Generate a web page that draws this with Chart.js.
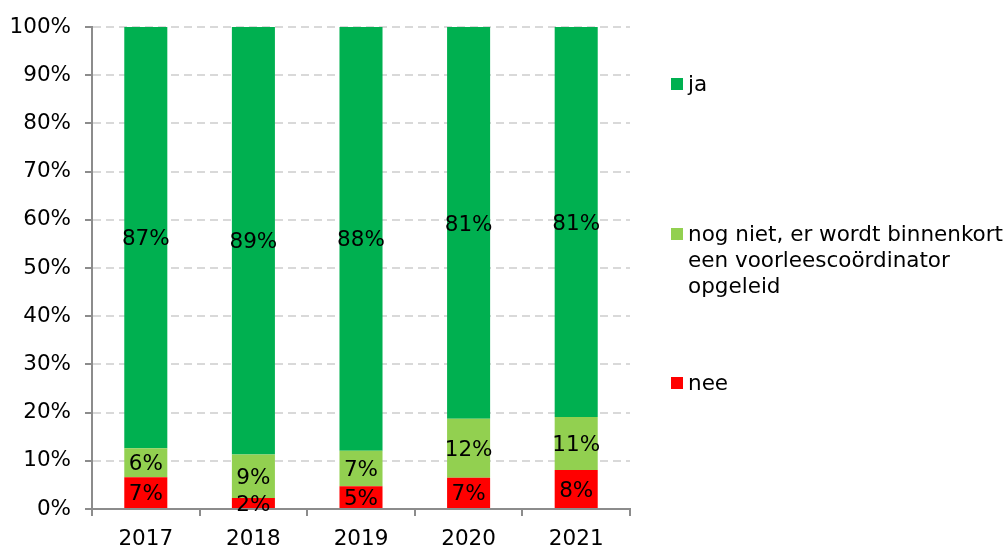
<!DOCTYPE html>
<html>
<head>
<meta charset="utf-8">
<script src="https://cdn.jsdelivr.net/npm/chart.js@4"></script>
<style>
  body { margin: 0; background: #fff; }
  #wrap { position: relative; width: 1008px; height: 548px; }
  .legend { position: absolute; left: 671px; font-family: 'DejaVu Sans', sans-serif; font-size: 21.5px; line-height: 26px; color: #000; white-space: nowrap; }
  .legend span.box { position: absolute; left: 0; top: 7px; width: 12px; height: 12px; }
  .legend div.txt { margin-left: 17px; }
</style>
</head>
<body>
<div id="wrap">
  <canvas id="chart" width="1008" height="548"></canvas>
  <div class="legend" style="top:71px"><span class="box" style="background:#00B050"></span><div class="txt">ja</div></div>
  <div class="legend" style="top:221px"><span class="box" style="background:#92D050"></span><div class="txt">nog niet, er wordt binnenkort<br>een voorleescoördinator<br>opgeleid</div></div>
  <div class="legend" style="top:370px"><span class="box" style="background:#FF0000"></span><div class="txt">nee</div></div>
</div>
<script>
document.addEventListener("DOMContentLoaded", function () {
    const years = ['2017', '2018', '2019', '2020', '2021'];
    const nee = [6.6, 2.3, 4.7, 6.5, 8.1];
    const nogNiet = [6.0, 9.0, 7.4, 12.2, 11.0];
    const ja = [87.4, 88.7, 87.9, 81.3, 80.9];
    const yTicks = [0, 10, 20, 30, 40, 50, 60, 70, 80, 90, 100];

    const font = "'DejaVu Sans', sans-serif";
    const fontSize = 21.5;

    // draws the percentage in the middle of each bar segment
    const barLabels = {
        id: 'barLabels',
        afterDatasetsDraw(chart) {
            const ctx = chart.ctx;
            ctx.save();
            ctx.font = fontSize + 'px ' + font;
            ctx.fillStyle = '#000';
            ctx.textAlign = 'center';
            ctx.textBaseline = 'middle';
            chart.data.datasets.forEach((ds, i) => {
                chart.getDatasetMeta(i).data.forEach((bar, j) => {
                    const mid = (bar.y + bar.base) / 2;
                    ctx.fillText(Math.round(ds.data[j]) + '%', bar.x, mid + 2);
                });
            });
            ctx.restore();
        }
    };

    new Chart(document.getElementById('chart').getContext('2d'), {
        type: 'bar',
        data: {
            labels: years,
            datasets: [
                { label: 'nee', data: nee, backgroundColor: '#FF0000' },
                { label: 'nog niet, er wordt binnenkort een voorleescoördinator opgeleid', data: nogNiet, backgroundColor: '#92D050' },
                { label: 'ja', data: ja, backgroundColor: '#00B050' }
            ]
        },
        options: {
            responsive: false,
            animation: false,
            layout: { padding: { top: 27, right: 378, bottom: 0, left: 0 } },
            datasets: { bar: { categoryPercentage: 1, barPercentage: 0.4 } },
            plugins: { legend: { display: false }, tooltip: { enabled: false } },
            scales: {
                x: {
                    stacked: true,
                    afterFit(scale) { scale.height = 39; },
                    grid: { drawOnChartArea: false, offset: true, tickLength: 7, color: '#8c8c8c', lineWidth: 2 },
                    border: { color: '#8c8c8c', width: 2 },
                    ticks: { color: '#000', font: { family: font, size: fontSize }, padding: 11 }
                },
                y: {
                    stacked: true,
                    min: 0,
                    max: 100,
                    afterFit(scale) { scale.width = 92; },
                    afterBuildTicks(scale) { scale.ticks = yTicks.map(v => ({ value: v })); },
                    grid: { color: '#d9d9d9', lineWidth: 2, tickColor: '#8c8c8c', tickLength: 7, tickWidth: 2, tickBorderDash: [] },
                    border: { color: '#8c8c8c', width: 2, dash: [8, 5] },
                    ticks: { color: '#000', font: { family: font, size: fontSize }, padding: 14, callback: v => v + '%' }
                }
            }
        },
        plugins: [barLabels]
    });
});
</script>
</body>
</html>
